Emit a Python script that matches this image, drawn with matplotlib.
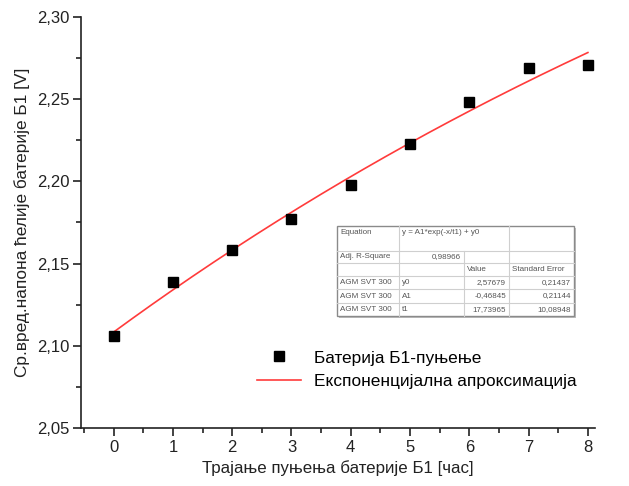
import numpy as np
import matplotlib
matplotlib.use("Agg")
import matplotlib.pyplot as plt
from matplotlib.ticker import MultipleLocator, FuncFormatter
from matplotlib.lines import Line2D

plt.rcParams['font.family'] = ['Liberation Sans', 'DejaVu Sans']

# ---- data ----
hours = [0, 1, 2, 3, 4, 5, 6, 7, 8]
voltage = [2.106, 2.139, 2.158, 2.177, 2.198, 2.223, 2.248, 2.269, 2.271]
# fit parameters (from the chart's table)
y0 = 2.57679
A1 = -0.46845
t1 = 17.73965
y0_err, A1_err, t1_err = 0.21437, 0.21144, 10.08948
adj_r2 = 0.98966

series_label = "Батерија Б1-пуњење"
fit_label = "Експоненцијална апроксимација"
xlabel = "Трајање пуњења батерије Б1 [час]"
ylabel = "Ср.вред.напона ћелије батерије Б1 [V]"

W, H = 629, 486
fig = plt.figure(figsize=(W / 100, H / 100), dpi=100)
L, R, T, B = 81, 595, 17, 428
ax = fig.add_axes([L / W, 1 - B / H, (R - L) / W, (B - T) / H])

xf = np.linspace(0, 8, 200)
yf = A1 * np.exp(-xf / t1) + y0
ax.plot(hours, voltage, 's', color='black', ms=6.6, label=series_label, zorder=3)
ax.plot(xf, yf, '-', color='#ff3b3b', lw=1.2, label=fit_label, zorder=2)

ax.set_xlim(-0.55, 8.12)
ax.set_ylim(2.05, 2.30)
ax.xaxis.set_major_locator(MultipleLocator(1))
ax.xaxis.set_minor_locator(MultipleLocator(0.5))
ax.yaxis.set_major_locator(MultipleLocator(0.05))
ax.yaxis.set_minor_locator(MultipleLocator(0.025))
ax.yaxis.set_major_formatter(FuncFormatter(lambda v, p: f"{v:.2f}".replace('.', ',')))
ax.xaxis.set_major_formatter(FuncFormatter(lambda v, p: f"{v:.0f}"))
for s in ['top', 'right']:
    ax.spines[s].set_visible(False)
for s in ['left', 'bottom']:
    ax.spines[s].set_linewidth(1.2)
    ax.spines[s].set_color('#222222')
ax.tick_params(which='major', direction='out', length=6, width=1.2, labelsize=12,
               colors='#222222', pad=2.5)
ax.tick_params(which='minor', direction='out', length=3.5, width=1.2, colors='#222222')
ax.set_xlabel(xlabel, fontsize=12.2, color='#222222', labelpad=4)
ax.set_ylabel(ylabel, fontsize=12.4, color='#222222', labelpad=4.5)

ax.legend(loc='upper left', bbox_to_anchor=(0.318, 0.218), frameon=False, fontsize=12.4,
          handlelength=2.6, handletextpad=0.72, labelspacing=0.5, borderpad=0.2,
          markerscale=1.0)

# ---- fit table (drawn in pixel coordinates) ----
def fx(px):
    return px / W

def fy(py):
    return 1 - py / H

cols = [337, 399, 464, 509, 574]
rows = [226, 251, 263, 276, 289, 303, 316]
grid_c = '#cfcfcf'
txt_c = '#555555'
fs = 5.8

# shadow and border
fig.add_artist(plt.Rectangle((fx(cols[0] + 2), fy(rows[-1] + 2)), fx(cols[-1] - cols[0]),
                             (rows[-1] - rows[0]) / H, facecolor='#bdbdbd', edgecolor='none', zorder=5))
fig.add_artist(plt.Rectangle((fx(cols[0]), fy(rows[-1])), fx(cols[-1] - cols[0]),
                             (rows[-1] - rows[0]) / H, facecolor='white', edgecolor='#8a8a8a', lw=1.0, zorder=6))
for r in rows[1:-1]:
    fig.add_artist(Line2D([fx(cols[0]), fx(cols[-1])], [fy(r), fy(r)], color=grid_c, lw=0.8, zorder=7))
for c in [cols[1], cols[3]]:
    fig.add_artist(Line2D([fx(c), fx(c)], [fy(rows[0]), fy(rows[-1])], color=grid_c, lw=0.8, zorder=7))
fig.add_artist(Line2D([fx(cols[2]), fx(cols[2])], [fy(rows[1]), fy(rows[-1])], color=grid_c, lw=0.8, zorder=7))

def cell(text, ci, ri, align='left', top=False):
    if align == 'left':
        x = fx(cols[ci] + 3)
    else:
        x = fx(cols[ci + 1] - 3)
    if top:
        y = fy(rows[ri] + 6)
    else:
        y = fy((rows[ri] + rows[ri + 1]) / 2)
    fig.text(x, y, text, ha=align, va='center', fontsize=fs, color=txt_c, zorder=8)

def comma(v, n=5):
    return f"{v:.{n}f}".replace('.', ',')

cell("Equation", 0, 0, top=True)
cell("y = A1*exp(-x/t1) + y0", 1, 0, top=True)
cell("Adj. R-Square", 0, 1)
cell(comma(adj_r2), 1, 1, align='right')
cell("Value", 2, 2)
cell("Standard Error", 3, 2)
for i, (nm, val, err) in enumerate([("y0", y0, y0_err), ("A1", A1, A1_err), ("t1", t1, t1_err)]):
    cell("AGM SVT 300", 0, 3 + i)
    cell(nm, 1, 3 + i)
    cell(comma(val), 2, 3 + i, align='right')
    cell(comma(err), 3, 3 + i, align='right')

fig.savefig("out.png", dpi=100)
